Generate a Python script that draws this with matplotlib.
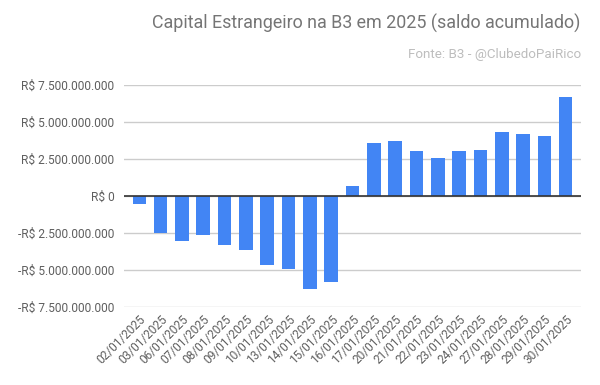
import matplotlib
matplotlib.use("Agg")
import matplotlib.pyplot as plt
from matplotlib.ticker import FuncFormatter

plt.rcParams["font.family"] = ["Roboto", "DejaVu Sans"]

dates = [
    "02/01/2025", "03/01/2025", "06/01/2025", "07/01/2025", "08/01/2025",
    "09/01/2025", "10/01/2025", "13/01/2025", "14/01/2025", "15/01/2025",
    "16/01/2025", "17/01/2025", "20/01/2025", "21/01/2025", "22/01/2025",
    "23/01/2025", "24/01/2025", "27/01/2025", "28/01/2025", "29/01/2025",
    "30/01/2025",
]
# saldo acumulado, R$ bilhões
saldo_bi = [
    -0.56, -2.50, -3.06, -2.66, -3.33, -3.67, -4.68, -4.95, -6.31, -5.83,
    0.70, 3.60, 3.74, 3.06, 2.59, 3.06, 3.13, 4.35, 4.21, 4.08, 6.71,
]
yticks = [-7.5e9, -5e9, -2.5e9, 0, 2.5e9, 5e9, 7.5e9]

BLUE = "#4285F4"
GRID = "#cccccc"
TXT = "#5f5f5f"


def brl(v, pos=None):
    v = int(round(v))
    s = f"{abs(v):,}".replace(",", ".")
    return f"-R$ {s}" if v < 0 else f"R$ {s}"


fig = plt.figure(figsize=(6.0, 3.85), dpi=100)
ax = fig.add_axes([0.2067, 0.2026, 0.7616, 0.5766])

x = list(range(len(dates)))
vals = [v * 1e9 for v in saldo_bi]
ax.bar(x, vals, width=0.64, color=BLUE, zorder=3)

ax.set_ylim(-7.5e9, 7.5e9)
ax.set_xlim(-0.72, len(dates) - 0.28)
ax.set_yticks(yticks)
ax.yaxis.set_major_formatter(FuncFormatter(brl))
ax.grid(axis="y", color=GRID, linewidth=1, zorder=0)
ax.axhline(0, color="#333333", linewidth=1.2, zorder=4)

ax.set_xticks(x)
ax.set_xticklabels(dates, rotation=45, ha="right", rotation_mode="anchor")
ax.tick_params(axis="both", length=0, colors=TXT)
ax.tick_params(axis="x", pad=4, labelsize=8.6)
ax.tick_params(axis="y", pad=7, labelsize=8.6)
for s in ax.spines.values():
    s.set_visible(False)

fig.text(0.968, 0.925, "Capital Estrangeiro na B3 em 2025 (saldo acumulado)",
         ha="right", va="baseline", fontsize=12.9, color="#757575")
fig.text(0.968, 0.85, "Fonte: B3 - @ClubedoPaiRico",
         ha="right", va="baseline", fontsize=9.6, color="#bdbdbd")

fig.savefig("out.png", dpi=100, facecolor="white")
